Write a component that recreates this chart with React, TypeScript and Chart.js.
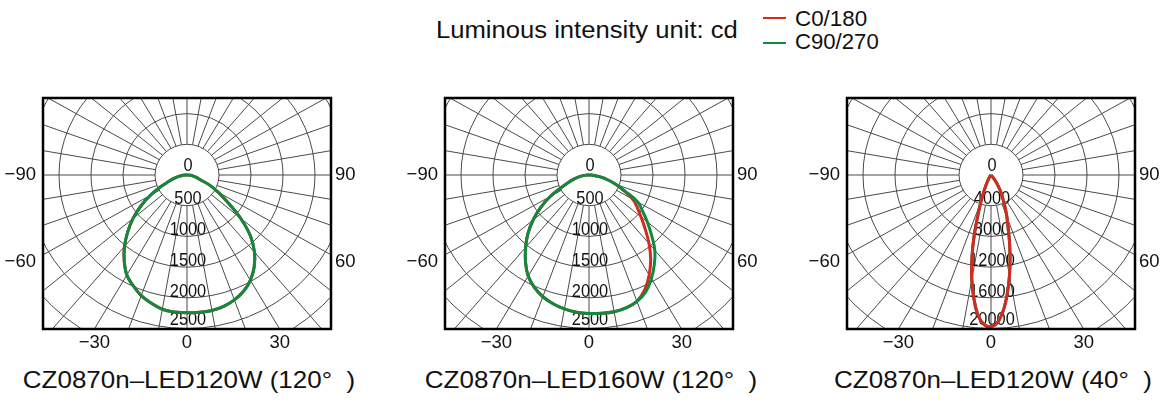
import React, { useEffect, useRef } from "react";
import { Chart, registerables } from "chart.js";

Chart.register(...registerables);

// ---------- data ----------
// angles (degrees from nadir), negative = C180 / C270 side
const ANGLES = [
  -90, -85, -80, -75, -70, -65, -60, -55, -50, -45, -40, -35, -30, -25, -20, -15, -10, -5, 0,
  5, 10, 15, 20, 25, 30, 35, 40, 45, 50, 55, 60, 65, 70, 75, 80, 85, 90,
];

// Panel 1: CZ0870n-LED120W (120°)
const P1_C0 = [
  0, 60, 130, 210, 300, 455, 660, 880, 1100, 1310, 1520, 1710, 1880, 1990, 2090, 2160, 2220, 2240, 2245,
  2245, 2240, 2215, 2165, 2090, 1980, 1830, 1640, 1400, 1090, 780, 560, 390, 215, 150, 100, 50, 0,
];
const P1_C90 = [
  0, 60, 130, 210, 300, 455, 660, 880, 1100, 1310, 1520, 1710, 1880, 1990, 2090, 2160, 2220, 2240, 2245,
  2245, 2240, 2215, 2165, 2090, 1980, 1830, 1640, 1400, 1090, 780, 560, 390, 215, 150, 100, 50, 0,
];

// Panel 2: CZ0870n-LED160W (120°)
const P2_C0 = [
  0, 70, 150, 230, 330, 470, 700, 920, 1140, 1350, 1540, 1730, 1900, 2020, 2110, 2170, 2215, 2245, 2255,
  2260, 2260, 2240, 2190, 2060, 1880, 1680, 1460, 1240, 1060, 920, 790, 600, 450, 300, 180, 80, 0,
];
const P2_C90 = [
  0, 70, 150, 230, 330, 470, 700, 920, 1140, 1350, 1540, 1730, 1900, 2020, 2110, 2170, 2215, 2245, 2255,
  2260, 2260, 2240, 2190, 2100, 1950, 1780, 1600, 1380, 1190, 1020, 880, 620, 450, 300, 180, 80, 0,
];

// Panel 3: CZ0870n-LED120W (40°) – finer angle grid for the narrow beam
const P3_ANGLES = [
  -90, -80, -70, -60, -50, -45, -40, -37.5, -35, -32.5, -30, -27.5, -25, -22.5, -20, -17.5, -15, -12.5,
  -10, -7.5, -5, -2.5, 0, 2.5, 5, 7.5, 10, 12.5, 15, 17.5, 20, 22.5, 25, 27.5, 30, 32.5, 35, 37.5, 40,
  45, 50, 60, 70, 80, 90,
];
const P3_C0 = [
  0, 0, 0, 0, 0, 0, 50, 150, 250, 400, 650, 1000, 1550, 2350, 3600, 5350, 8100, 11000,
  13850, 16300, 18400, 19500, 19750, 19200, 17700, 15600, 13300, 11000, 8900, 7050, 5800, 4650, 3650, 2900, 2250, 1600, 1000, 500, 200,
  0, 0, 0, 0, 0, 0,
];
const P3_C90 = [
  0, 0, 0, 0, 0, 0, 50, 150, 250, 400, 650, 1000, 1550, 2350, 3600, 5350, 8100, 11000,
  13850, 16300, 18400, 19500, 19750, 19200, 17700, 15600, 13300, 11000, 8900, 7050, 5800, 4650, 3650, 2900, 2250, 1600, 1000, 500, 200,
  0, 0, 0, 0, 0, 0,
];

const RING_LABELS_A = ["0", "500", "1000", "1500", "2000", "2500"];
const RING_LABELS_B = ["0", "4000", "8000", "12000", "16000", "20000"];
const ANGLE_TICKS = [-90, -60, -30, 0, 30, 60, 90];
const TITLES = ["CZ0870n–LED120W (120°  )", "CZ0870n–LED160W (120°  )", "CZ0870n–LED120W (40°  )"];
const HEADER = "Luminous intensity unit: cd";
const LEGEND = ["C0/180", "C90/270"];

const RED = "#d42a20";
const GREEN = "#0f8a3e";

// ---------- geometry ----------
const BOX_W = 288;
const BOX_H = 231;
const PAD_L = 43;
const PAD_T = 8;
const CANVAS_W = 372;
const CANVAS_H = 270;
const X_STEPS = 4.5; // half-width in ring steps (32px per step)
const Y_TOP = 2.508; // ring steps above centre (30.7px per step)
const Y_BOT = 5.016;

const FONT = "'Liberation Sans', Arial, sans-serif";

function toXY(angles: number[], values: number[]) {
  return values.map((v, i) => {
    const a = (angles[i] * Math.PI) / 180;
    return { x: v * Math.sin(a), y: -v * Math.cos(a) };
  });
}

const polarGrid = {
  id: "polarGrid",
  beforeDatasetsDraw(chart: any, _args: any, opts: any) {
    const { ctx, chartArea: ca } = chart;
    const xs = chart.scales.x;
    const ys = chart.scales.y;
    const step = opts.step;
    const cx = xs.getPixelForValue(0);
    const cy = ys.getPixelForValue(0);
    ctx.save();
    ctx.beginPath();
    ctx.rect(ca.left, ca.top, ca.right - ca.left, ca.bottom - ca.top);
    ctx.clip();
    ctx.strokeStyle = "#4a4a4a";
    ctx.lineWidth = 1;
    for (let k = 1; k <= 10; k++) {
      const rx = xs.getPixelForValue(k * step) - cx;
      const ry = cy - ys.getPixelForValue(k * step);
      ctx.beginPath();
      ctx.ellipse(cx, cy, rx, ry, 0, 0, Math.PI * 2);
      ctx.stroke();
    }
    for (let a = 0; a < 360; a += 10) {
      const s = Math.sin((a * Math.PI) / 180);
      const c = Math.cos((a * Math.PI) / 180);
      ctx.beginPath();
      ctx.moveTo(xs.getPixelForValue(step * s), ys.getPixelForValue(-step * c));
      ctx.lineTo(xs.getPixelForValue(12 * step * s), ys.getPixelForValue(-12 * step * c));
      ctx.stroke();
    }
    // ring labels
    ctx.fillStyle = "#111";
    ctx.font = `19px ${FONT}`;
    ctx.textAlign = "center";
    ctx.textBaseline = "middle";
    (opts.labels as string[]).forEach((t, k) => {
      let py = k === 0 ? cy - 9 : ys.getPixelForValue(-k * step) - 6.5;
      py = Math.min(py, ca.bottom - 9);
      ctx.save();
      ctx.translate(cx + 1, py);
      ctx.scale(0.86, 1);
      ctx.fillText(t, 0, 0);
      ctx.restore();
    });
    ctx.restore();
  },
  afterDatasetsDraw(chart: any) {
    const { ctx, chartArea: ca } = chart;
    const xs = chart.scales.x;
    const ys = chart.scales.y;
    ctx.save();
    ctx.strokeStyle = "#000";
    ctx.lineWidth = 2.5;
    ctx.strokeRect(ca.left, ca.top, ca.right - ca.left, ca.bottom - ca.top);
    ctx.fillStyle = "#111";
    ctx.font = `18.5px ${FONT}`;
    ctx.textBaseline = "middle";
    const xmax = xs.max;
    const ymin = Math.abs(ys.min);
    ANGLE_TICKS.forEach((a) => {
      const r = (a * Math.PI) / 180;
      const s = Math.sin(r);
      const c = Math.cos(r);
      const tSide = Math.abs(s) > 1e-6 ? xmax / Math.abs(s) : Infinity;
      const tBot = c > 1e-6 ? ymin / c : Infinity;
      const label = a < 0 ? "−" + Math.abs(a) : String(a);
      if (tSide < tBot) {
        const py = ys.getPixelForValue(-tSide * c) + (Math.abs(a) === 90 ? 0 : 7);
        if (s < 0) {
          ctx.textAlign = "right";
          ctx.fillText(label, ca.left - 7, py);
        } else {
          ctx.textAlign = "left";
          ctx.fillText(label, ca.right + 4, py);
        }
      } else {
        const px = xs.getPixelForValue(tBot * s);
        ctx.textAlign = "center";
        ctx.fillText(label, px, ca.bottom + 14);
      }
    });
    ctx.restore();
  },
};

type PanelProps = {
  left: number;
  angles: number[];
  c0: number[];
  c90: number[];
  step: number;
  labels: string[];
  redOnTop: boolean;
};

function Panel({ left, angles, c0, c90, step, labels, redOnTop }: PanelProps) {
  const ref = useRef<HTMLCanvasElement | null>(null);
  useEffect(() => {
    if (!ref.current) return;
    const chart = new Chart(ref.current, {
      type: "scatter",
      data: {
        datasets: [
          {
            label: LEGEND[0],
            data: toXY(angles, c0),
            showLine: true,
            borderColor: RED,
            backgroundColor: RED,
            borderWidth: 3,
            pointRadius: 0,
            tension: 0.4,
            fill: false,
            order: redOnTop ? 0 : 1,
          },
          {
            label: LEGEND[1],
            data: toXY(angles, c90),
            showLine: true,
            borderColor: GREEN,
            backgroundColor: GREEN,
            borderWidth: 3,
            pointRadius: 0,
            tension: 0.4,
            fill: false,
            order: redOnTop ? 1 : 0,
          },
        ],
      },
      options: {
        animation: false,
        responsive: false,
        maintainAspectRatio: false,
        events: [],
        layout: {
          padding: {
            left: PAD_L,
            right: CANVAS_W - PAD_L - BOX_W,
            top: PAD_T,
            bottom: CANVAS_H - PAD_T - BOX_H,
          },
        },
        scales: {
          x: { type: "linear", display: false, min: -X_STEPS * step, max: X_STEPS * step },
          y: { type: "linear", display: false, min: -Y_BOT * step, max: Y_TOP * step },
        },
        plugins: {
          legend: { display: false },
          tooltip: { enabled: false },
          polarGrid: { step, labels },
        } as any,
      },
      plugins: [polarGrid as any],
    });
    return () => chart.destroy();
  }, []);
  return (
    <canvas
      ref={ref}
      width={CANVAS_W}
      height={CANVAS_H}
      style={{ position: "absolute", left, top: 90, width: CANVAS_W, height: CANVAS_H }}
    />
  );
}

function Txt({
  x,
  baseline,
  size,
  sx,
  center,
  children,
}: {
  x: number;
  baseline: number;
  size: number;
  sx: number;
  center?: boolean;
  children: React.ReactNode;
}) {
  const top = baseline - 0.8465 * size;
  const w = 700;
  return (
    <div
      style={{
        position: "absolute",
        left: center ? x - w / 2 : x,
        top,
        width: center ? w : undefined,
        whiteSpace: "pre",
        fontFamily: FONT,
        fontSize: size,
        lineHeight: `${size}px`,
        color: "#111",
        textAlign: center ? "center" : "left",
        transform: `scaleX(${sx})`,
        transformOrigin: center ? "center" : "left",
      }}
    >
      {children}
    </div>
  );
}

export default function App() {
  const panelLefts = [0, 402, 804];
  const centers = panelLefts.map((l) => l + PAD_L + BOX_W / 2);
  return (
    <div
      style={{
        position: "absolute",
        left: 0,
        top: 0,
        width: 1170,
        height: 420,
        background: "#fff",
        overflow: "hidden",
      }}
    >
      <Txt x={436} baseline={39} size={23.5} sx={1.09}>
        {HEADER}
      </Txt>
      <div style={{ position: "absolute", left: 763, top: 17.3, width: 23, height: 2, background: RED }} />
      <div style={{ position: "absolute", left: 763, top: 41.7, width: 23, height: 2, background: GREEN }} />
      <Txt x={795} baseline={27} size={21.5} sx={1.04}>
        {LEGEND[0]}
      </Txt>
      <Txt x={795} baseline={50.5} size={21.5} sx={1.03}>
        {LEGEND[1]}
      </Txt>

      <Panel left={panelLefts[0]} angles={ANGLES} c0={P1_C0} c90={P1_C90} step={500} labels={RING_LABELS_A} redOnTop={false} />
      <Panel left={panelLefts[1]} angles={ANGLES} c0={P2_C0} c90={P2_C90} step={500} labels={RING_LABELS_A} redOnTop={false} />
      <Panel left={panelLefts[2]} angles={P3_ANGLES} c0={P3_C0} c90={P3_C90} step={4000} labels={RING_LABELS_B} redOnTop={true} />

      {TITLES.map((t, i) => (
        <Txt key={i} x={centers[i] + 2} baseline={389} size={24.5} sx={1.06} center>
          {t}
        </Txt>
      ))}
    </div>
  );
}
